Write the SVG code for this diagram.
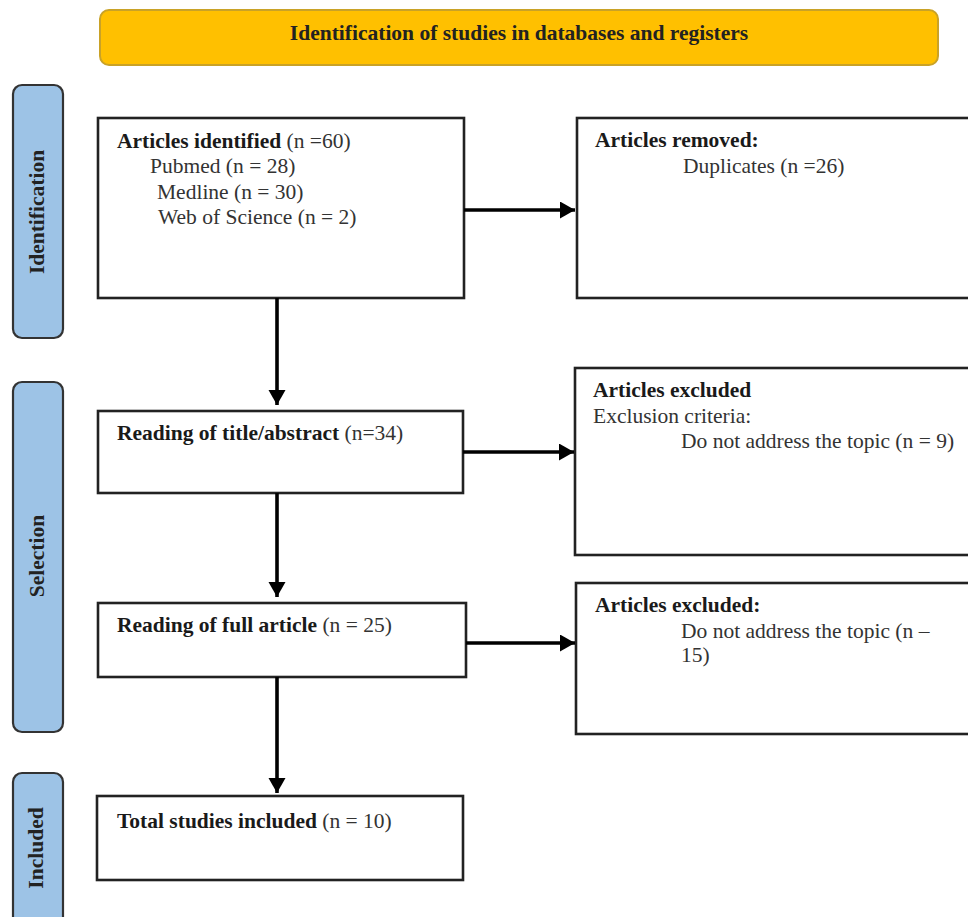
<svg xmlns="http://www.w3.org/2000/svg" width="968" height="917" viewBox="0 0 968 917">
<defs>
<style>
.box{fill:#fff;stroke:#222;stroke-width:2.6}
.phase{fill:#9DC3E6;stroke:#333;stroke-width:2.2}
.t{font-family:"Liberation Serif","Times New Roman",serif;font-size:21.5px;fill:#333}
.b{font-weight:bold;fill:#1a1a1a}
.ph{font-family:"Liberation Serif","Times New Roman",serif;font-size:21.5px;font-weight:bold;fill:#222;text-anchor:middle}
.arr{stroke:#000;stroke-width:3.6;fill:none;marker-end:url(#ah)}
</style>
<marker id="ah" markerUnits="userSpaceOnUse" markerWidth="16" markerHeight="18" refX="15" refY="8.5" orient="auto">
<path d="M0,0 L15,8.5 L0,17 z" fill="#000"/>
</marker>
</defs>
<rect width="968" height="917" fill="#fff"/>

<g id="banner">
<rect x="100" y="10" width="838" height="55" rx="9" fill="#FFC000" stroke="#C9A227" stroke-width="2"/>
<text class="ph" x="519" y="40">Identification of studies in databases and registers</text>
</g>

<g id="phase-identification">
<rect class="phase" x="13" y="85" width="50" height="253" rx="9"/>
<text class="ph" transform="translate(44,212) rotate(-90)">Identification</text>
</g>
<g id="phase-selection">
<rect class="phase" x="13" y="382" width="50" height="350" rx="9"/>
<text class="ph" transform="translate(44,556) rotate(-90)">Selection</text>
</g>
<g id="phase-included">
<rect class="phase" x="13" y="773" width="50" height="160" rx="9"/>
<text class="ph" transform="translate(43,848) rotate(-90)">Included</text>
</g>

<g id="identified">
<rect class="box" x="98" y="118" width="366" height="180"/>
<text class="t" x="117" y="148"><tspan class="b">Articles identified</tspan> (n =60)</text>
<text class="t" x="150" y="173">Pubmed (n = 28)</text>
<text class="t" x="157" y="199">Medline (n = 30)</text>
<text class="t" x="158" y="224">Web of Science (n = 2)</text>
</g>

<g id="removed">
<rect class="box" x="577" y="118" width="400" height="180"/>
<text class="t b" x="595" y="147">Articles removed:</text>
<text class="t" x="683" y="173">Duplicates (n =26)</text>
</g>

<g id="title-abstract">
<rect class="box" x="98" y="411" width="365" height="82"/>
<text class="t" x="117" y="440"><tspan class="b">Reading of title/abstract</tspan> (n=34)</text>
</g>

<g id="excluded1">
<rect class="box" x="575" y="368" width="400" height="187"/>
<text class="t b" x="593" y="397">Articles excluded</text>
<text class="t" x="593" y="423">Exclusion criteria:</text>
<text class="t" x="681" y="448">Do not address the topic (n = 9)</text>
</g>

<g id="full-article">
<rect class="box" x="98" y="603" width="368" height="74"/>
<text class="t" x="117" y="632"><tspan class="b">Reading of full article</tspan> (n = 25)</text>
</g>

<g id="excluded2">
<rect class="box" x="576" y="583" width="400" height="151"/>
<text class="t b" x="595" y="612">Articles excluded:</text>
<text class="t" x="681" y="638">Do not address the topic (n –</text>
<text class="t" x="681" y="662">15)</text>
</g>

<g id="included">
<rect class="box" x="97" y="796" width="366" height="84"/>
<text class="t" x="117" y="828"><tspan class="b">Total studies included</tspan> (n = 10)</text>
</g>

<g id="connectors">
<line class="arr" x1="464" y1="210" x2="575" y2="210"/>
<line class="arr" x1="277" y1="298" x2="277" y2="405"/>
<line class="arr" x1="463" y1="452" x2="574" y2="452"/>
<line class="arr" x1="277" y1="493" x2="277" y2="597"/>
<line class="arr" x1="466" y1="643" x2="575" y2="643"/>
<line class="arr" x1="277" y1="677" x2="277" y2="793"/>
</g>
</svg>
